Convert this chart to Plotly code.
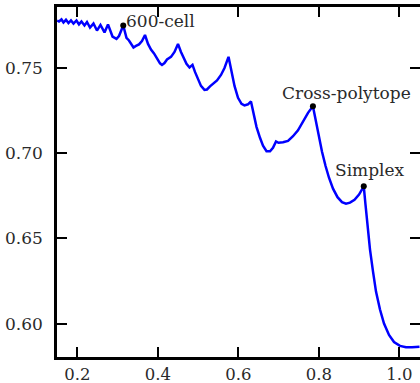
import plotly.graph_objects as go

# Half-angle (x) vs. value (y)
x_vals = [0.1500, 0.1545, 0.1607, 0.1657, 0.1719, 0.1781, 0.1843, 0.1906, 0.1980, 0.2042,
          0.2104, 0.2179, 0.2241, 0.2316, 0.2402, 0.2489, 0.2576, 0.2676, 0.2763, 0.2875,
          0.2974, 0.3036, 0.3142, 0.3222, 0.3284, 0.3347, 0.3396, 0.3458, 0.3533, 0.3607,
          0.3682, 0.3757, 0.3831, 0.3906, 0.3980, 0.4055, 0.4104, 0.4166, 0.4229, 0.4328,
          0.4415, 0.4502, 0.4576, 0.4639, 0.4713, 0.4788, 0.4862, 0.4924, 0.4999, 0.5073,
          0.5160, 0.5222, 0.5297, 0.5371, 0.5471, 0.5570, 0.5657, 0.5757, 0.5831, 0.5906,
          0.5993, 0.6080, 0.6154, 0.6241, 0.6315, 0.6378, 0.6452, 0.6539, 0.6614, 0.6701,
          0.6788, 0.6862, 0.6937, 0.6999, 0.7111, 0.7235, 0.7359, 0.7483, 0.7607, 0.7732,
          0.7854, 0.7918, 0.7993, 0.8080, 0.8166, 0.8253, 0.8353, 0.8465, 0.8576, 0.8676,
          0.8775, 0.8887, 0.8999, 0.9117, 0.9160, 0.9210, 0.9272, 0.9347, 0.9421, 0.9520,
          0.9620, 0.9744, 0.9868, 1.0017, 1.0166, 1.0316, 1.0502]
y_vals = [0.7776, 0.7770, 0.7782, 0.7764, 0.7780, 0.7761, 0.7776, 0.7758, 0.7776, 0.7753,
          0.7770, 0.7747, 0.7767, 0.7735, 0.7758, 0.7717, 0.7750, 0.7706, 0.7753, 0.7682,
          0.7668, 0.7685, 0.7747, 0.7674, 0.7659, 0.7639, 0.7618, 0.7627, 0.7636, 0.7656,
          0.7691, 0.7639, 0.7606, 0.7583, 0.7557, 0.7525, 0.7516, 0.7527, 0.7548, 0.7563,
          0.7592, 0.7639, 0.7592, 0.7557, 0.7522, 0.7501, 0.7516, 0.7475, 0.7428, 0.7393,
          0.7370, 0.7372, 0.7390, 0.7407, 0.7425, 0.7457, 0.7498, 0.7563, 0.7475, 0.7393,
          0.7323, 0.7288, 0.7279, 0.7285, 0.7302, 0.7241, 0.7153, 0.7089, 0.7042, 0.7010,
          0.7010, 0.7030, 0.7068, 0.7060, 0.7063, 0.7071, 0.7098, 0.7133, 0.7182, 0.7235,
          0.7273, 0.7194, 0.7101, 0.7007, 0.6925, 0.6855, 0.6791, 0.6741, 0.6712, 0.6703,
          0.6709, 0.6726, 0.6756, 0.6805, 0.6697, 0.6580, 0.6434, 0.6305, 0.6188, 0.6083,
          0.6001, 0.5934, 0.5893, 0.5870, 0.5862, 0.5862, 0.5865]

# Labelled polytopes
poly_names = ["600-cell", "Cross-polytope", "Simplex"]
poly_x = [0.3142, 0.7854, 0.9117]
poly_y = [0.7747, 0.7273, 0.6805]

x_ticks = [0.2, 0.4, 0.6, 0.8, 1.0]
y_ticks = [0.60, 0.65, 0.70, 0.75]

FONT = "DejaVu Serif"
TXT = "#2a2a2a"

fig = go.Figure()
fig.add_trace(go.Scatter(x=x_vals, y=y_vals, mode="lines",
                         line=dict(color="#0000ff", width=2.5), showlegend=False,
                         hoverinfo="skip"))
fig.add_trace(go.Scatter(x=poly_x, y=poly_y, mode="markers",
                         marker=dict(color="black", size=6), showlegend=False))

# annotation placements (xanchor, xshift, yanchor, yshift)
ann_style = [("left", 1, "middle", 4), ("center", 34, "bottom", 1), ("center", 6, "bottom", 4)]
for name, px, py, (xa, xs, ya, ys) in zip(poly_names, poly_x, poly_y, ann_style):
    fig.add_annotation(x=px, y=py, text=name, showarrow=False, xanchor=xa, xshift=xs,
                       yanchor=ya, yshift=ys, font=dict(family=FONT, size=17, color=TXT))

fig.update_layout(
    width=420, height=383,
    margin=dict(l=57, r=0, t=7, b=26, autoexpand=False),
    paper_bgcolor="white", plot_bgcolor="white",
    font=dict(family=FONT, size=17, color=TXT),
    xaxis=dict(range=[0.1496, 1.0514], tickvals=x_ticks, ticktext=[f"{v:.1f}" for v in x_ticks],
               ticks="inside", ticklen=10, tickwidth=1.5, tickcolor="black",
               showline=True, linewidth=2.5, linecolor="black", mirror="ticks",
               showgrid=False, zeroline=False, ticklabelstandoff=0, automargin=False,
               tickfont=dict(size=16.5)),
    yaxis=dict(range=[0.5805, 0.7855], tickvals=y_ticks, ticktext=[f"{v:.2f}" for v in y_ticks],
               ticks="inside", ticklen=10, tickwidth=1.5, tickcolor="black",
               showline=True, linewidth=2.5, linecolor="black",
               showgrid=False, zeroline=False, ticklabelstandoff=8, automargin=False),
    yaxis2=dict(range=[0.5805, 0.7855], tickvals=y_ticks, overlaying="y", side="right",
                ticks="inside", ticklen=10, tickwidth=1.5, tickcolor="black",
                showticklabels=False, showline=False, showgrid=False, zeroline=False,
                automargin=False),
)
fig.add_trace(go.Scatter(x=[None], y=[None], yaxis="y2", showlegend=False))

fig.write_html("out.html")
